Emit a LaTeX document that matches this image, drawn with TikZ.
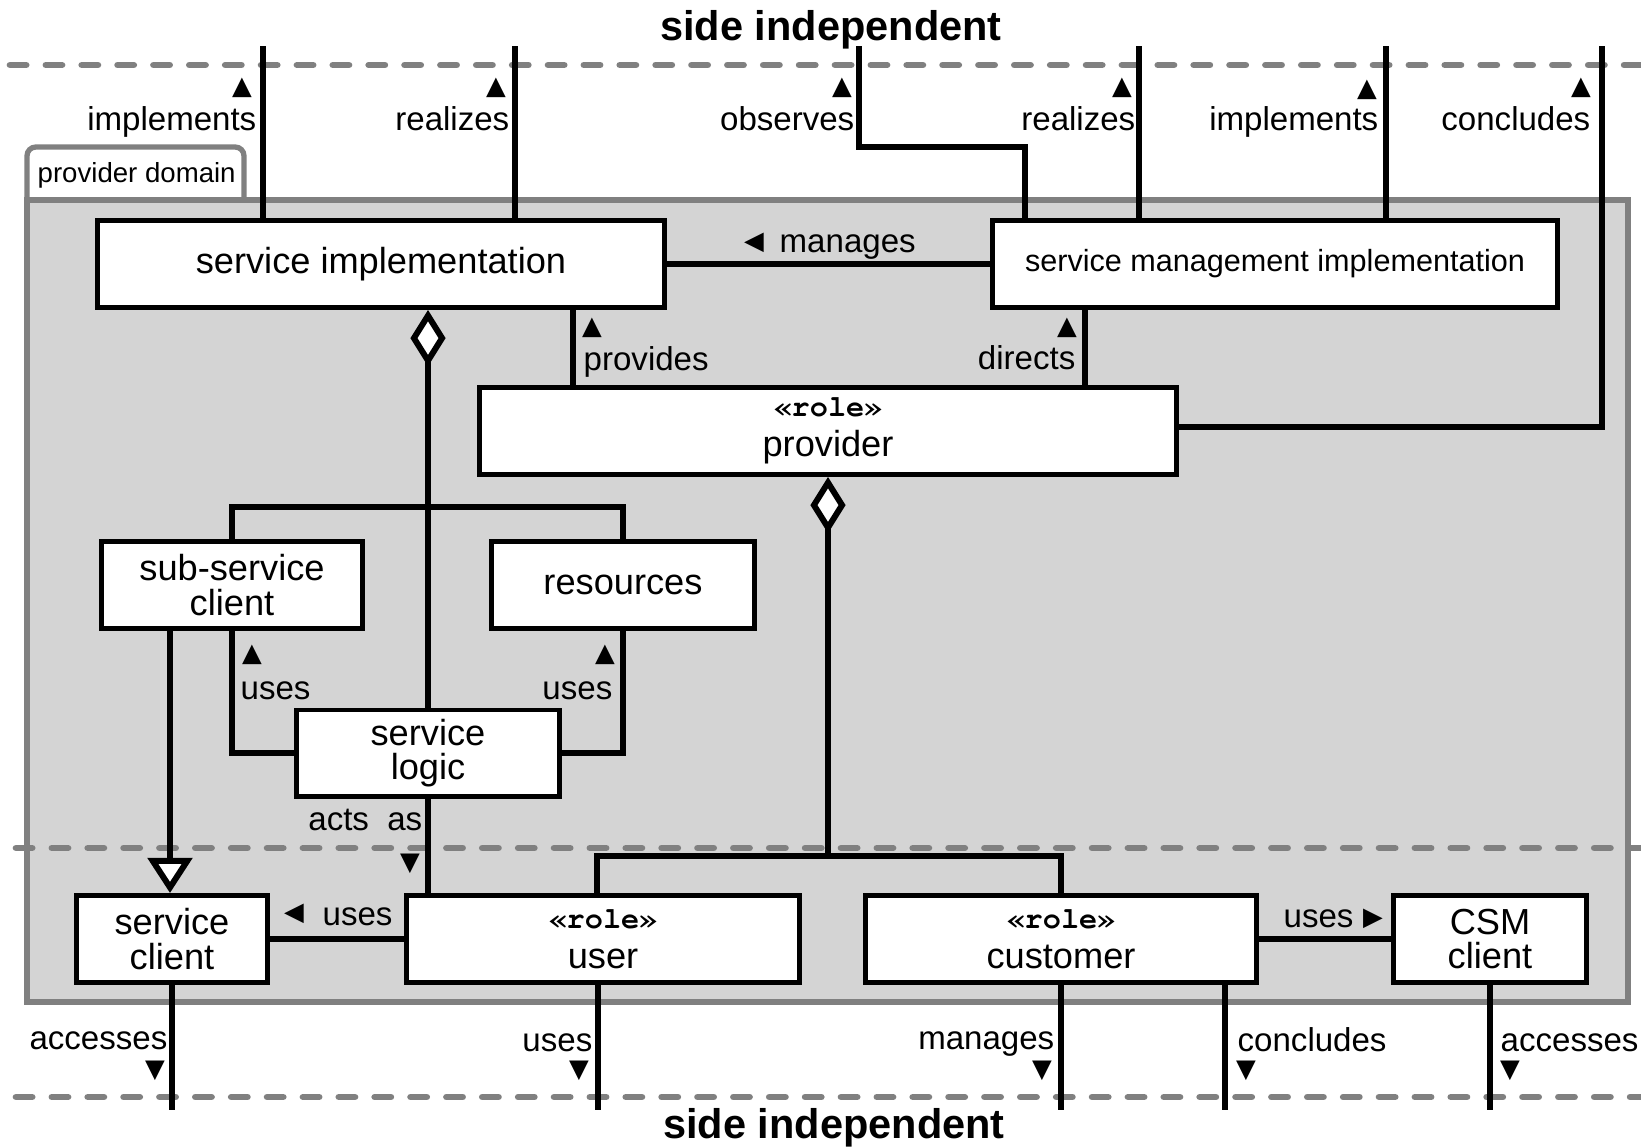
\documentclass[tikz,border=0pt]{standalone}
\usepackage{fontspec}
\setmainfont{Liberation Sans}
\newfontfamily\rolefont{TeX Gyre Cursor}
\newfontfamily\symfont{DejaVu Sans}
\usetikzlibrary{arrows.meta}
\definecolor{pkgfill}{RGB}{212,212,212}
\definecolor{pkgline}{RGB}{128,128,128}
\newcommand\rolehead{{\rolefont\bfseries\fontsize{8.6}{8.6}\selectfont «role»}\\[1.6pt]}

\begin{document}
\begin{tikzpicture}[x=0.01cm, y=-0.01cm,
  box/.style={draw=black, fill=white, line width=1.4pt, inner sep=0pt,
    minimum height=0.87cm, align=center, font=\fontsize{10.3}{9.8}\selectfont},
  lbl/.style={inner sep=0pt, font=\fontsize{9.4}{9.4}\selectfont},
  tri/.style={inner sep=0pt, font=\symfont\fontsize{7.3}{7.3}\selectfont},
  con/.style={line width=1.7pt},
  agg/.style={con, {Diamond[fill=white, length=16pt, width=10pt]}-},
  gen/.style={con, -{Triangle[fill=white, length=10pt, width=12.5pt]}},
  side/.style={draw=pkgline, line width=1.9pt, line cap=round, dash pattern=on 4.6pt off 5.6pt},
  title/.style={inner sep=0pt, font=\bfseries\fontsize{11.8}{11.8}\selectfont}]
  \useasboundingbox (0,0) rectangle (1641,1147);

  % provider domain
  \draw[pkgline, line width=1.5pt, fill=white, rounded corners=2.5pt] (27,200) -- (27,147) -- (244,147) -- (244,200);
  \draw[pkgline, line width=1.5pt, fill=pkgfill] (27,200) rectangle (1628,1002);
  \node[anchor=base west, inner sep=0pt, font=\fontsize{7.85}{7.85}\selectfont] (pd) at (37,182) {provider domain};

  % sides
  \draw[side] (10,65) -- (1641,65);
  \draw[side] (16,848) -- (1641,848);
  \draw[side] (16,1097) -- (1641,1097);
  \node[title, anchor=base] (top) at (831,40) {side independent};
  \node[title, anchor=base] (bot) at (834,1138) {side independent};

  % boxes
  \node[box, minimum width=5.66cm] (SI) at (381,264) {service implementation};
  \node[box, minimum width=5.65cm, font=\fontsize{8.7}{8.7}\selectfont] (SMI) at (1275,264) {service management implementation};
  \node[box, minimum width=6.97cm] (P) at (828,431) {\rolehead provider};
  \node[box, minimum width=2.60cm] (SSC) at (232,585) {sub-service\\client};
  \node[box, minimum width=2.62cm] (R) at (623,585) {resources};
  \node[box, minimum width=2.62cm, minimum height=0.86cm] (SL) at (428,753) {service\\logic};
  \node[box, minimum width=1.91cm] (SC) at (172,939) {service\\client};
  \node[box, minimum width=3.92cm] (U) at (603,939) {\rolehead user};
  \node[box, minimum width=3.91cm] (C) at (1061,939) {\rolehead customer};
  \node[box, minimum width=1.92cm] (CSM) at (1490,939) {CSM\\client};

  % free ends and corners
  \coordinate (t1) at (263,46);
  \coordinate (t2) at (515,46);
  \coordinate (t3) at (859,46);
  \coordinate (t4) at (1139,46);
  \coordinate (t5) at (1386,46);
  \coordinate (t6) at (1602,46);
  \coordinate (k3) at (1025,147);
  \coordinate (k6) at (1602,427);
  \coordinate (pv) at (573,340);
  \coordinate (dr) at (1085,340);
  \coordinate (br) at (428,507);
  \coordinate (pr) at (828,856);
  \coordinate (ux) at (597,880);
  \coordinate (gx) at (170,700);
  \coordinate (b1) at (172,1110);
  \coordinate (b2) at (598,1110);
  \coordinate (b3) at (1061,1110);
  \coordinate (b4) at (1225,1110);
  \coordinate (b5) at (1490,1110);

  % connectors
  \draw[con] (SI.north -| t1) -- (t1);
  \draw[con] (SI.north -| t2) -- (t2);
  \draw[con] (SMI.north -| k3) -- (k3) -| (t3);
  \draw[con] (SMI.north -| t4) -- (t4);
  \draw[con] (SMI.north -| t5) -- (t5);
  \draw[con] (P.east |- k6) -- (k6) -- (t6);
  \draw[con] (SI.east) -- (SMI.west);
  \draw[con] (SI.south -| pv) -- (P.north -| pv);
  \draw[con] (SMI.south -| dr) -- (P.north -| dr);
  \draw[agg] (SI.south -| SL.north) -- (SL.north);
  \draw[con] (SSC.north) |- (br) -| (R.north);
  \draw[con] (SSC.south) |- (SL.west);
  \draw[con] (R.south) |- (SL.east);
  \draw[gen] (SSC.south -| gx) -- (SC.north -| gx);
  \draw[con] (SL.south) -- (U.north -| SL.south);
  \draw[agg] (P.south) -- (pr);
  \draw[con] (U.north -| ux) |- (pr) -| (C.north);
  \draw[con] (U.west) -- (SC.east);
  \draw[con] (C.east) -- (CSM.west);
  \draw[con] (SC.south) -- (b1);
  \draw[con] (U.south -| b2) -- (b2);
  \draw[con] (C.south -| b3) -- (b3);
  \draw[con] (C.south -| b4) -- (b4);
  \draw[con] (CSM.south) -- (b5);

  % labels
  \node[lbl, anchor=base east] (l1) at (257,130) {implements};
  \node[tri] (a1) at (242,88) {▲};
  \node[lbl, anchor=base east] (l2) at (510,130) {realizes};
  \node[tri] (a2) at (496,88) {▲};
  \node[lbl, anchor=base east] (l3) at (855,130) {observes};
  \node[tri] (a3) at (842,88) {▲};
  \node[lbl, anchor=base east] (l4) at (1136,130) {realizes};
  \node[tri] (a4) at (1122,88) {▲};
  \node[lbl, anchor=base east] (l5) at (1379,130) {implements};
  \node[tri] (a5) at (1367,90) {▲};
  \node[lbl, anchor=base east] (l6) at (1591,130) {concludes};
  \node[tri] (a6) at (1581,88) {▲};
  \node[tri] (a7) at (754,243) {◀};
  \node[lbl, anchor=base west] (l7) at (779,252) {manages};
  \node[tri] (a8) at (592,328) {▲};
  \node[lbl, anchor=base west] (l8) at (583,370) {provides};
  \node[tri] (a9) at (1067,328) {▲};
  \node[lbl, anchor=base east] (l9) at (1076,369) {directs};
  \node[tri] (a10) at (252,655) {▲};
  \node[lbl, anchor=base west] (l10) at (240,699) {uses};
  \node[tri] (a11) at (605,655) {▲};
  \node[lbl, anchor=base east] (l11) at (613,699) {uses};
  \node[lbl, anchor=base east] (l12) at (423,830) {acts\ \ as};
  \node[tri] (a12) at (410,864) {▼};
  \node[tri] (a13) at (294,914) {◀};
  \node[lbl, anchor=base west] (l13) at (322,925) {uses};
  \node[lbl, anchor=base west] (l14) at (1283,927) {uses};
  \node[tri] (a14) at (1373,919) {▶};
  \node[lbl, anchor=base east] (l15) at (168,1049) {accesses};
  \node[tri] (a15) at (155,1071) {▼};
  \node[lbl, anchor=base east] (l16) at (593,1051) {uses};
  \node[tri] (a16) at (579,1071) {▼};
  \node[lbl, anchor=base east] (l17) at (1055,1049) {manages};
  \node[tri] (a17) at (1042,1071) {▼};
  \node[lbl, anchor=base west] (l18) at (1237,1051) {concludes};
  \node[tri] (a18) at (1246,1071) {▼};
  \node[lbl, anchor=base west] (l19) at (1500,1051) {accesses};
  \node[tri] (a19) at (1510,1071) {▼};
\end{tikzpicture}
\end{document}
